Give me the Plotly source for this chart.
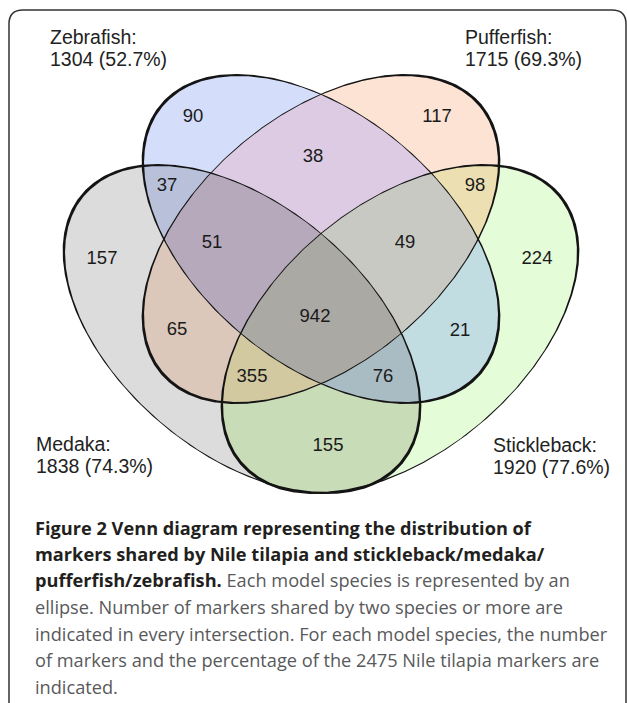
import numpy as np
import plotly.graph_objects as go

# ------------------------------------------------------------------ data
species = ["Zebrafish", "Pufferfish", "Medaka", "Stickleback"]
species_totals = [1304, 1715, 1838, 1920]
species_pct = [52.7, 69.3, 74.3, 77.6]
nile_tilapia_total = 2475

# region membership bitmask: 1 Zebrafish, 2 Pufferfish, 4 Medaka, 8 Stickleback
region_sets = [1, 2, 4, 8, 3, 5, 9, 6, 10, 12, 7, 11, 13, 14, 15]
region_counts = [90, 117, 157, 224, 38, 37, 21, 65, 98, 155, 51, 49, 76, 355, 942]

# ------------------------------------------------------------------ geometry / style (pixel space)
W, H = 627, 703
ELL_A, ELL_B = 208, 124
ellipse_geom = {          # centre x, centre y, tilt (deg, screen y down)
    "Zebrafish": (321, 239, 40),
    "Pufferfish": (321, 239, -40),
    "Medaka": (242, 329, 40),
    "Stickleback": (400, 329, -40),
}
region_label_xy = [(193, 117), (437, 117), (102, 259), (537, 259), (313, 157),
                   (167, 186), (460, 331), (177, 330), (475, 186), (328, 446),
                   (212, 243), (405, 243), (383, 377), (252, 377), (315, 317)]
species_label_xy = [(48, 37, 59), (463, 37, 59), (34, 444, 466), (491, 445, 467)]
region_colors = {
    0: "#ffffff", 1: "#d4ddf9", 2: "#fde3d4", 4: "#dcdcdc", 8: "#e5fcd8",
    3: "#dccbe3", 5: "#b9c1da", 9: "#c2dde2", 6: "#dcc8bb", 10: "#ece0b2",
    12: "#c9dcb8", 7: "#b5a9bb", 11: "#c9c9c4", 13: "#a9bcc3", 14: "#d2c9a0",
    15: "#aaa9a4",
}

bits = [1, 2, 4, 8]

# ------------------------------------------------------------------ region raster
xs = np.arange(50, 600) + 0.5
ys = np.arange(60, 510) + 0.5
X, Y = np.meshgrid(xs, ys)
code = np.zeros(X.shape, dtype=int)
for bit, name in zip(bits, species):
    cx, cy, ang = ellipse_geom[name]
    t = np.deg2rad(ang)
    dx, dy = X - cx, Y - cy
    u = dx * np.cos(t) + dy * np.sin(t)
    v = -dx * np.sin(t) + dy * np.cos(t)
    code[(u / ELL_A) ** 2 + (v / ELL_B) ** 2 <= 1] |= bit

cscale = []
for k in range(16):
    cscale.append([k / 16, region_colors[k]])
    cscale.append([(k + 1) / 16, region_colors[k]])

fig = go.Figure()
fig.add_trace(go.Heatmap(
    z=code.tolist(), x0=50.5, dx=1, y0=60.5, dy=1,
    zmin=-0.5, zmax=15.5, colorscale=cscale, showscale=False,
    hoverinfo="skip"))

# ------------------------------------------------------------------ outlines (variable stroke)
tt = np.linspace(0, 2 * np.pi, 900)
W_TIP, W_SIDE = 3.0, 0.95
for name in species:
    cx, cy, ang = ellipse_geom[name]
    th = np.deg2rad(ang)
    c, s = np.cos(th), np.sin(th)
    ex, ey = ELL_A * np.cos(tt), ELL_B * np.sin(tt)
    px = cx + ex * c - ey * s
    py = cy + ex * s + ey * c
    nxl, nyl = ELL_B * np.cos(tt), ELL_A * np.sin(tt)
    nn = np.hypot(nxl, nyl)
    nxl, nyl = nxl / nn, nyl / nn
    nx = nxl * c - nyl * s
    ny = nxl * s + nyl * c
    w = W_SIDE + (W_TIP - W_SIDE) * np.abs(np.cos(tt)) ** 3
    ox, oy = px + nx * w / 2, py + ny * w / 2
    ix, iy = px - nx * w / 2, py - ny * w / 2
    polx = np.concatenate([ox, ix[::-1], ox[:1]])
    poly = np.concatenate([oy, iy[::-1], oy[:1]])
    fig.add_trace(go.Scatter(x=polx, y=poly, mode="lines", fill="toself",
                             fillcolor="#141414", line=dict(width=0),
                             hoverinfo="skip", showlegend=False))

# ------------------------------------------------------------------ region counts
fig.add_trace(go.Scatter(
    x=[p[0] for p in region_label_xy], y=[p[1] for p in region_label_xy],
    text=[str(v) for v in region_counts], mode="text",
    textfont=dict(family="Liberation Sans, Arial, sans-serif", size=18.5, color="#1a1a1a"),
    hoverinfo="skip", showlegend=False))

# ------------------------------------------------------------------ species labels
ann = []
for name, tot, pct, (lx, y1, y2) in zip(species, species_totals, species_pct, species_label_xy):
    for txt, yy in ((f"{name}:", y1), (f"{tot} ({pct}%)", y2)):
        ann.append(dict(x=lx, y=yy, xref="x", yref="y", text=txt, showarrow=False,
                        xanchor="left", yanchor="middle",
                        font=dict(family="Liberation Sans, Arial, sans-serif", size=19.5, color="#222222")))

# ------------------------------------------------------------------ caption
B = "<span style='color:#231f20'><b>{}</b></span>"
cap_lines = [
    B.format("Figure 2 Venn diagram representing the distribution of"),
    B.format("markers shared by Nile tilapia and stickleback/medaka/"),
    B.format("pufferfish/zebrafish.") + " Each model species is represented by an",
    "ellipse. Number of markers shared by two species or more are",
    "indicated in every intersection. For each model species, the number",
    f"of markers and the percentage of the {nile_tilapia_total} Nile tilapia markers are",
    "indicated.",
]
cap_y = [527.5, 553.5, 580, 606.5, 633.5, 660, 686.5]
for txt, yy in zip(cap_lines, cap_y):
    ann.append(dict(x=33, y=yy, xref="x", yref="y", text=txt, showarrow=False,
                    xanchor="left", yanchor="middle",
                    font=dict(family="Open Sans, sans-serif", size=18.2, color="#58595b")))

border = dict(type="path", xref="x", yref="y",
              path="M 9,703 L 9,24 Q 9,10 23,10 L 612,10 Q 626,10 626,24 L 626,703",
              line=dict(color="#333333", width=1.5))

fig.update_layout(
    width=W, height=H, margin=dict(l=0, r=0, t=0, b=0),
    paper_bgcolor="white", plot_bgcolor="white",
    xaxis=dict(range=[0, W], visible=False, fixedrange=True),
    yaxis=dict(range=[H, 0], visible=False, fixedrange=True),
    annotations=ann, shapes=[border], showlegend=False)

fig.write_html("out.html", config={"displayModeBar": False},
               post_script="document.body.style.margin='0px';document.body.style.overflow='hidden';")
